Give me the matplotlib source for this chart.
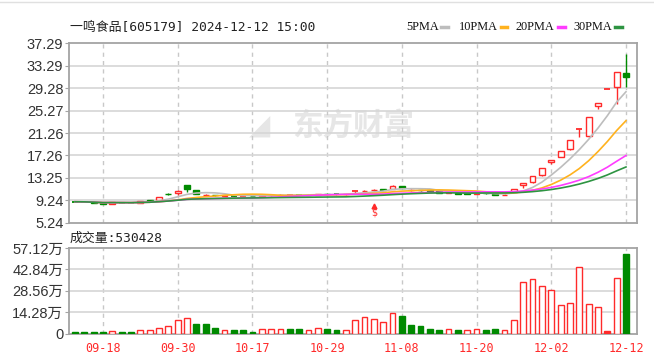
import matplotlib
matplotlib.use('Agg')
import matplotlib.pyplot as plt
import numpy as np
import pandas as pd
from matplotlib.lines import Line2D

# ---------------- data ----------------
title = '一鸣食品[605179] 2024-12-12 15:00'
tick_idx = [3, 11, 19, 27, 35, 43, 51, 59]
tick_labels = ['09-18', '09-30', '10-17', '10-29', '11-08', '11-20', '12-02', '12-12']

opens = [9.00, 8.98, 8.92, 8.75, 8.65, 8.86, 8.82, 8.82, 9.22, 9.33,
         10.40, 10.55, 12.01, 11.00, 10.10, 10.20, 10.05, 10.10, 9.98, 10.05,
         10.00, 10.10, 10.15, 10.15, 10.20, 10.15, 10.25, 10.45, 10.35, 10.28,
         10.88, 10.85, 11.00, 11.20, 11.30, 11.75, 11.00, 11.10, 11.00, 10.85,
         10.60, 10.60, 10.50, 10.45, 10.55, 10.35, 10.15, 10.80, 11.98, 12.45,
         13.74, 16.10, 17.00, 18.45, 21.93, 20.70, 26.00, 29.19, 29.40, 32.00]
closes = [8.98, 8.95, 8.78, 8.62, 8.85, 8.82, 8.80, 9.12, 9.15, 9.86,
          10.30, 10.92, 11.28, 10.35, 10.20, 10.10, 10.12, 10.05, 10.03, 10.00,
          10.10, 10.18, 10.25, 10.20, 10.15, 10.25, 10.40, 10.35, 10.30, 10.35,
          10.92, 10.98, 11.05, 11.10, 11.85, 11.50, 11.10, 11.00, 10.90, 10.60,
          10.65, 10.40, 10.45, 10.55, 10.50, 10.20, 10.23, 11.25, 12.38, 13.62,
          14.98, 16.48, 18.13, 19.94, 21.93, 24.13, 26.54, 29.19, 32.11, 31.20]
highs = [9.03, 9.00, 8.95, 8.78, 8.88, 8.90, 8.86, 9.20, 9.35, 9.92,
         10.60, 11.00, 12.01, 11.10, 10.30, 10.25, 10.20, 10.15, 10.10, 10.08,
         10.15, 10.25, 10.30, 10.28, 10.25, 10.30, 10.45, 10.60, 10.40, 10.40,
         10.95, 11.05, 11.20, 11.25, 11.95, 11.80, 11.20, 11.15, 11.05, 10.90,
         10.70, 10.62, 10.55, 10.60, 10.60, 10.40, 10.30, 11.25, 12.38, 13.62,
         14.98, 16.48, 18.13, 19.94, 21.93, 24.13, 26.54, 29.19, 32.11, 35.32]
lows = [8.95, 8.92, 8.74, 8.58, 8.62, 8.78, 8.76, 8.80, 9.10, 9.28,
        10.18, 10.20, 10.80, 10.30, 10.00, 10.02, 10.00, 10.00, 9.95, 9.95,
        9.98, 10.05, 10.10, 10.10, 10.10, 10.10, 10.20, 10.30, 10.25, 10.25,
        10.55, 10.80, 10.85, 11.00, 11.25, 11.40, 10.95, 10.95, 10.85, 10.55,
        10.55, 10.35, 10.38, 10.40, 10.45, 10.15, 10.10, 10.75, 11.50, 12.30,
        13.60, 15.80, 16.90, 18.30, 20.50, 20.60, 25.60, 29.19, 26.40, 29.40]
volumes = [1.0, 1.0, 1.0, 1.0, 2.0, 1.0, 1.0, 2.6, 2.6, 3.5,
           5.2, 9.2, 10.3, 6.4, 6.4, 3.7, 2.6, 2.2, 2.2, 1.3,
           3.3, 3.3, 3.3, 2.8, 2.8, 2.6, 3.4, 2.8, 2.3, 2.2,
           9.0, 11.2, 9.8, 7.7, 14.0, 11.6, 5.7, 4.8, 3.3, 2.4,
           3.3, 2.4, 2.6, 3.3, 2.4, 3.3, 2.4, 9.2, 34.1, 36.5,
           31.7, 29.3, 18.8, 20.6, 44.4, 19.7, 17.9, 1.5, 36.8, 53.04]  # 万

price_tick_labels = ['5.24', '9.24', '13.25', '17.26', '21.26', '25.27', '29.28', '33.29', '37.29']
vol_tick_values = [0, 14.28, 28.56, 42.84, 57.12]
vol_tick_labels = ['0', '14.28万', '28.56万', '42.84万', '57.12万']
ma_periods = [5, 10, 20, 30]
ma_names = ['5PMA', '10PMA', '20PMA', '30PMA']
ma_colors = ['#bdbdbd', '#ffb21e', '#ff3cff', '#2e9442']
last_volume_text = '成交量:530428'
marker_idx = 32

# ---------------- style ----------------
RED = '#ff2a2a'
GREEN = '#008a00'
BORDER = '#a4a4a4'
GRID = '#d6d6d6'
LABEL = '#333333'
W, H = 654, 360

fig = plt.figure(figsize=(W / 100, H / 100), dpi=100)
fig.patch.set_facecolor('white')

def fx(px):
    return px / W

def fy(py):
    return 1 - py / H

axp = fig.add_axes([fx(69), fy(222.7), fx(637 - 69), (222.7 - 43.3) / H])
axv = fig.add_axes([fx(69), fy(333.5), fx(637 - 69), (333.5 - 248) / H])

n = len(closes)
x = np.arange(n)
o = np.array(opens); c = np.array(closes); h = np.array(highs); l = np.array(lows)
v = np.array(volumes)

# watermark
axp.text(0.5, 0.54, '东方财富', transform=axp.transAxes, fontsize=22, fontweight='bold',
         color='#e6e6e6', ha='center', va='center', family=['Noto Sans CJK SC'], zorder=0)
axp.text(0.335, 0.54, '◢', transform=axp.transAxes, fontsize=20,
         color='#e6e6e6', ha='center', va='center', family=['DejaVu Sans'], zorder=0)

# candles
bw = 0.62
for i in range(n):
    up = c[i] >= o[i]
    col = RED if up else GREEN
    axp.vlines(x[i], l[i], h[i], color=col, lw=1.0, zorder=3)
    lo_b, hi_b = min(o[i], c[i]), max(o[i], c[i])
    if hi_b - lo_b < 0.05:
        axp.hlines((lo_b + hi_b) / 2, x[i] - bw / 2, x[i] + bw / 2, color=col, lw=1.3, zorder=4)
    else:
        axp.bar(x[i], hi_b - lo_b, bottom=lo_b, width=bw,
                facecolor='white' if up else GREEN, edgecolor=col, lw=1.0, zorder=4)

# moving averages
cs = pd.Series(c)
for p, col in zip(ma_periods, ma_colors):
    ma = cs.rolling(p, min_periods=1).mean()
    axp.plot(x, ma, color=col, lw=1.2, zorder=5)

# event marker
axp.plot(x[marker_idx], 8.25, marker='^', color=RED, ms=3.5, zorder=6)
axp.text(x[marker_idx], 7.0, '$', color=RED, fontsize=7, ha='center', va='center', zorder=6)

# volume bars
prev = np.concatenate([[o[0]], c[:-1]])
for i in range(n):
    up = c[i] >= prev[i]
    col = RED if up else GREEN
    if v[i] < 2.0 and up:
        axv.bar(x[i], v[i], width=bw, facecolor=RED, edgecolor=RED, lw=1.0, zorder=3)
    else:
        axv.bar(x[i], v[i], width=bw, facecolor='white' if up else GREEN,
                edgecolor=col, lw=1.0, zorder=3)

# axes formatting
xlim = (-0.64, 60.18)
pt = [float(s) for s in price_tick_labels]
for ax in (axp, axv):
    ax.set_xlim(*xlim)
    for s in ax.spines.values():
        s.set_color(BORDER)
        s.set_linewidth(1.3)
    ax.set_xticks(tick_idx)
    for t in tick_idx:
        ax.axvline(t, color='#c8c8c8', lw=1.0, ls=(0, (3, 3)), zorder=1)
    ax.tick_params(axis='y', length=3, color=BORDER, labelsize=10.5, labelcolor=LABEL, pad=1)
    ax.tick_params(axis='x', length=0)

axp.set_ylim(pt[0], pt[-1])
axp.set_yticks(pt)
axp.set_yticklabels(price_tick_labels, family=['Liberation Sans'])
for t in pt[1:-1]:
    axp.axhline(t, color=GRID, lw=1.2, zorder=1)
axp.set_xticklabels([])

axv.set_ylim(0, 57.12)
axv.set_yticks(vol_tick_values)
axv.set_yticklabels(vol_tick_labels, family=['Liberation Sans', 'Noto Sans CJK SC'])
for t in vol_tick_values[1:-1]:
    axv.axhline(t, color=GRID, lw=1.2, zorder=1)
axv.set_xticklabels(tick_labels, color=RED, fontsize=8.5, family=['DejaVu Sans Mono'])
axv.tick_params(axis='x', pad=6)

# titles
fig.text(fx(70), fy(27), title, fontsize=9.3, color='#222222', va='center', ha='left',
         family=['DejaVu Sans Mono', 'Noto Sans CJK SC'])
fig.text(fx(70), fy(238), last_volume_text, fontsize=9.3, color='#222222', va='center', ha='left',
         family=['DejaVu Sans Mono', 'Noto Sans CJK SC'])

# legend
leg_text_x = [406, 459, 515, 573]
leg_dash_x = [(441, 448), (501, 507), (558, 565), (615, 622)]
for name, col, tx, (d0, d1) in zip(ma_names, ma_colors, leg_text_x, leg_dash_x):
    fig.text(fx(tx), fy(27), name, fontsize=8.8, color='#111111', va='center', ha='left',
             family=['Liberation Serif'])
    fig.add_artist(Line2D([fx(d0), fx(d1)], [fy(26.5), fy(26.5)], color=col, lw=2.5,
                          transform=fig.transFigure))

# thin top border line
fig.add_artist(Line2D([0, 1], [fy(1.5), fy(1.5)], color='#e0e0e0', lw=1, transform=fig.transFigure))

fig.savefig('out.png', dpi=100)
